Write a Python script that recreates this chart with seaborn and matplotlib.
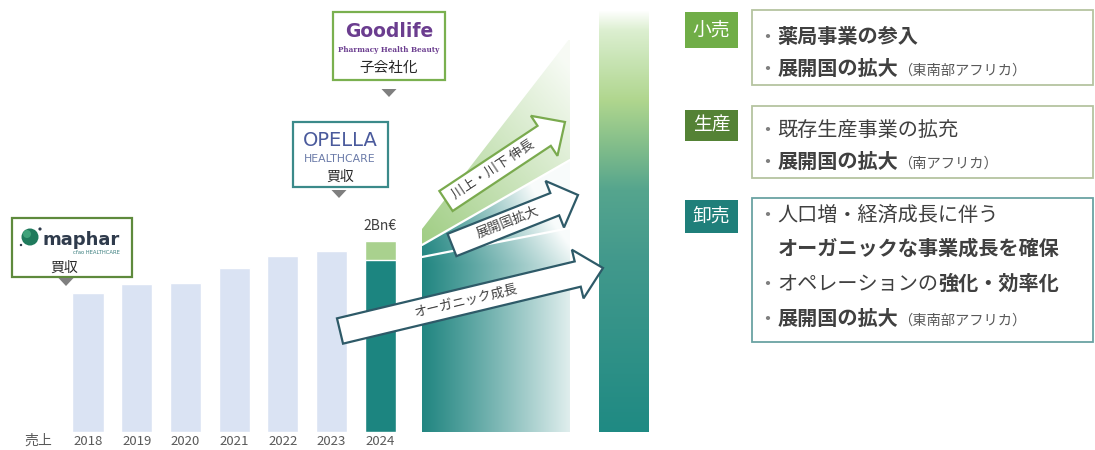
import numpy as np
import pandas as pd
import matplotlib
matplotlib.use("Agg")
import matplotlib.pyplot as plt
import seaborn as sns
from matplotlib.patches import Polygon, Rectangle, Circle
from matplotlib.colors import to_rgb

# ---------------- data ----------------
years = ["2018", "2019", "2020", "2021", "2022", "2023", "2024"]
sales_base = [1.46, 1.55, 1.56, 1.72, 1.84, 1.90, 1.80]
sales_added = [0, 0, 0, 0, 0, 0, 0.20]
total_label = "2Bn€"
axis_label = "売上"
arrow_labels = ["オーガニック成長", "展開国拡大", "川上・川下 伸長"]
segments = ["小売", "生産", "卸売"]

# ---------------- style ----------------
sns.set_theme(style="white")
plt.rcParams['font.family'] = ['Noto Sans CJK JP', 'DejaVu Sans']

LIGHT = "#dae3f3"
TEAL = "#1c8580"
GREEN = "#a9d18e"
TXT = "#404040"

W, H = 1095, 450
fig = plt.figure(figsize=(W / 100, H / 100), dpi=100)
fig.patch.set_facecolor("white")

# main axes (bar chart), pixel mapping helpers
X0, DXP, PYU, BASE = 88.0, 48.7, 95.5, 432.0
ax = fig.add_axes([0, (H - BASE) / H, 660 / W, BASE / H])


def dx(px):
    return (px - X0) / DXP


def dy(py):
    return (BASE - py) / PYU


df = pd.DataFrame({"year": years,
                   "base": sales_base,
                   "total": [b + a for b, a in zip(sales_base, sales_added)]})
pal_total = dict(zip(years, [LIGHT] * 6 + [GREEN]))
pal_base = dict(zip(years, [LIGHT] * 6 + [TEAL]))
sns.barplot(data=df, x="year", y="total", hue="year", palette=pal_total,
            width=0.64, legend=False, saturation=1, ax=ax, zorder=3)
sns.barplot(data=df, x="year", y="base", hue="year", palette=pal_base,
            width=0.64, legend=False, saturation=1, ax=ax, zorder=3)

ax.annotate(total_label, (6, df["total"].iloc[-1]), xytext=(0, 6),
            textcoords="offset points", ha="center", va="bottom",
            fontsize=10, color=TXT)

# ---- growth gradient region ----
ny, nx = 400, 160
ys = np.linspace(40, 432, ny)[:, None]
xs = np.linspace(422, 570, nx)[None, :]
tx = (xs - 422) / 148
white = np.array([1, 1, 1])
dark = np.array(to_rgb("#17807b"))
t_teal = np.clip(0.05 + 0.82 * tx ** 1.1 + 0.45 * np.clip((265 - ys) / 110, 0, 1) * (0.3 + tx), 0, 0.97)
img_teal = dark[None, None, :] * (1 - t_teal[..., None]) + white * t_teal[..., None]
gcol = np.array(to_rgb("#9dcc80"))
t_green = np.clip(0.05 + 0.45 * tx + 0.5 * np.clip((235 - ys) / 200, 0, 1), 0, 0.92)
img_green = gcol[None, None, :] * (1 - t_green[..., None]) + white * t_green[..., None]

ext = (dx(422), dx(570), dy(432), dy(40))


def dpoly(pts):
    return [(dx(a), dy(b)) for a, b in pts]


org_poly = Polygon(dpoly([(422, 432), (570, 432), (570, 228), (422, 257)]),
                   closed=True, fc="none", ec="none", transform=ax.transData)
exp_poly = Polygon(dpoly([(422, 257), (570, 228), (570, 160), (422, 245)]),
                   closed=True, fc="none", ec="none", transform=ax.transData)
grn_poly = Polygon(dpoly([(422, 245), (570, 160), (570, 38), (422, 229)]),
                   closed=True, fc="none", ec="none", transform=ax.transData)
for img, poly in [(img_teal, org_poly), (img_teal, exp_poly), (img_green, grn_poly)]:
    ax.add_patch(poly)
    im = ax.imshow(img, extent=ext, aspect="auto", origin="upper", zorder=1,
                   interpolation="bilinear")
    im.set_clip_path(poly)
ax.plot([dx(422), dx(570)], [dy(257), dy(228)], color="white", lw=1.6, zorder=2)
ax.plot([dx(422), dx(570)], [dy(245), dy(160)], color="white", lw=1.6, zorder=2)

# ---- tall target bar ----
stops_y = [10, 30, 60, 100, 150, 190, 260, 432]
stops_c = ["#ffffff", "#dcefd0", "#c8e4b4", "#b0d68e", "#7ebb8a", "#55a58e",
           "#42998c", "#1f8a83"]
yy = np.linspace(10, 432, 400)
cols = np.array([to_rgb(c) for c in stops_c])
bar_img = np.stack([np.interp(yy, stops_y, cols[:, k]) for k in range(3)], axis=-1)[:, None, :]
bar_img = np.repeat(bar_img, 4, axis=1)
ax.imshow(bar_img, extent=(dx(599), dx(649), dy(432), dy(10)), aspect="auto",
          origin="upper", zorder=1, interpolation="bilinear")

ax.set_xlim(dx(0), dx(660))
ax.set_ylim(0, dy(0))
ax.set_xticks(range(len(years)))
ax.set_xticklabels(years, fontsize=9.5, color="#595959")
ax.tick_params(axis="x", length=0, pad=2.5)
ax.set_yticks([])
ax.set_xlabel("")
ax.set_ylabel("")
for s in ax.spines.values():
    s.set_visible(False)
ax.set_facecolor("none")

# ---------------- overlay (pixel coordinates) ----------------
ov = fig.add_axes([0, 0, 1, 1])
ov.set_xlim(0, W)
ov.set_ylim(H, 0)
ov.axis("off")
ov.patch.set_alpha(0)

ov.text(38, 441, axis_label, fontsize=10, color="#595959", ha="center", va="center")


def block_arrow(tail, tip, w, hw, hl, ec, label, cx, fs=9.5):
    T = np.array(tail, float)
    Hd = np.array(tip, float)
    d = Hd - T
    L = np.hypot(*d)
    u = d / L
    n = np.array([-u[1], u[0]])
    B = Hd - u * hl
    pts = [T + n * w / 2, B + n * w / 2, B + n * hw / 2, Hd,
           B - n * hw / 2, B - n * w / 2, T - n * w / 2]
    ov.add_patch(Polygon(pts, closed=True, fc="white", ec=ec, lw=1.6,
                         joinstyle="miter", zorder=5))
    ang = np.degrees(np.arctan2(-d[1], d[0]))
    c = T + u * ((cx - T[0]) / u[0])
    ov.text(c[0], c[1], label, rotation=ang, rotation_mode="anchor",
            ha="center", va="center", fontsize=fs, color=TXT, zorder=6)


block_arrow((340, 331), (603, 268), 26, 50, 26, "#2e5a68", arrow_labels[0], 466)
block_arrow((452, 245), (578, 195), 24, 50, 25, "#2e5a68", arrow_labels[1], 508)
block_arrow((446, 201), (565, 122), 24, 48, 25, "#7aaa4e", arrow_labels[2], 493)


# ---- logo boxes ----
def tri(cx, y0, y1, w=15):
    ov.add_patch(Polygon([(cx - w / 2, y0), (cx + w / 2, y0), (cx, y1)],
                         closed=True, fc="#7f7f7f", ec="none"))


# maphar
ov.add_patch(Rectangle((12, 218), 120, 59, fc="white", ec="#5e8a3c", lw=1.6))
ov.add_patch(Circle((30, 237), 8.5, fc="#1f7a5c", ec="none"))
ov.add_patch(Circle((27, 234), 4, fc="#3fa27a", ec="none"))
ov.add_patch(Circle((40, 229), 1.6, fc="#2f3b4c", ec="none"))
ov.add_patch(Circle((21, 245), 1.2, fc="#2f3b4c", ec="none"))
ov.text(43, 245, "maphar", fontsize=13, fontweight="bold", color="#2f3b4c",
        family="DejaVu Sans", va="baseline")
ov.text(96, 253, "cfao HEALTHCARE", fontsize=3.8, color="#3a7e7e",
        family="DejaVu Sans", ha="center", va="center")
ov.text(64, 268, "買収", fontsize=10, color="#262626", ha="center", va="center")
tri(66, 278, 286)

# OPELLA
ov.add_patch(Rectangle((293, 122), 95, 65, fc="white", ec="#3b8a8a", lw=1.6))
ov.text(340, 141, "OPELLA", fontsize=14, color="#4a5a9c", family="DejaVu Sans",
        ha="center", va="center")
ov.text(340, 159, "HEALTHCARE", fontsize=7.8, color="#6a7aa8", family="DejaVu Sans",
        ha="center", va="center")
ov.text(340, 177, "買収", fontsize=10, color="#262626", ha="center", va="center")
tri(339, 190, 198)

# Goodlife
ov.add_patch(Rectangle((333, 12), 112, 68, fc="white", ec="#7ab04f", lw=1.6))
ov.text(389, 37, "Goodlife", fontsize=13.5, fontweight="bold", color="#6b3d8f",
        family="DejaVu Sans", ha="center", va="baseline")
ov.text(389, 50, "Pharmacy Health Beauty", fontsize=5.2, fontweight="bold",
        color="#6b3d8f", family="DejaVu Serif", ha="center", va="center")
ov.text(389, 68, "子会社化", fontsize=10.5, color="#262626", ha="center", va="center")
tri(389, 89, 97)

# ---- right text boxes ----
LBL_COL = ["#70ad47", "#548235", "#1f7f7a"]
lbl_boxes = [(12, 36), (110, 31), (200, 33)]
for name, col, (y0, h) in zip(segments, LBL_COL, lbl_boxes):
    ov.add_patch(Rectangle((685, y0), 53, h, fc=col, ec="none"))
    ov.text(711.5, y0 + h / 2, name, fontsize=13.5, color="white",
            ha="center", va="center")

ov.add_patch(Rectangle((752, 10), 341, 75, fc="white", ec="#b5c4a0", lw=1.3))
ov.add_patch(Rectangle((752, 106), 341, 72, fc="white", ec="#b5c4a0", lw=1.3))
ov.add_patch(Rectangle((752, 198), 341, 144, fc="white", ec="#6aa3a3", lw=1.3))

FS = 14.5
SM = 10.3


def line(x, yc, parts):
    base = yc + 0.38 * FS * 100 / 72
    for s, size, weight, color in parts:
        ov.text(x, base, s, fontsize=size, fontweight=weight, color=color,
                va="baseline", ha="left")
        x += len(s) * size * 100 / 72


BUL = ("・", FS, "normal", "#7f7f7f")
line(757, 35, [BUL, ("薬局事業の参入", FS, "bold", TXT)])
line(757, 67, [BUL, ("展開国の拡大", FS, "bold", TXT), ("（東南部アフリカ）", SM, "normal", "#595959")])
line(757, 128, [BUL, ("既存生産事業の拡充", FS, "normal", TXT)])
line(757, 160, [BUL, ("展開国の拡大", FS, "bold", TXT), ("（南アフリカ）", SM, "normal", "#595959")])
line(757, 213, [BUL, ("人口増・経済成長に伴う", FS, "normal", TXT)])
line(778, 247, [("オーガニックな事業成長を確保", FS, "bold", TXT)])
line(757, 282, [BUL, ("オペレーションの", FS, "normal", TXT), ("強化・効率化", FS, "bold", TXT)])
line(757, 317, [BUL, ("展開国の拡大", FS, "bold", TXT), ("（東南部アフリカ）", SM, "normal", "#595959")])

fig.savefig("out.png", dpi=100, facecolor="white")
